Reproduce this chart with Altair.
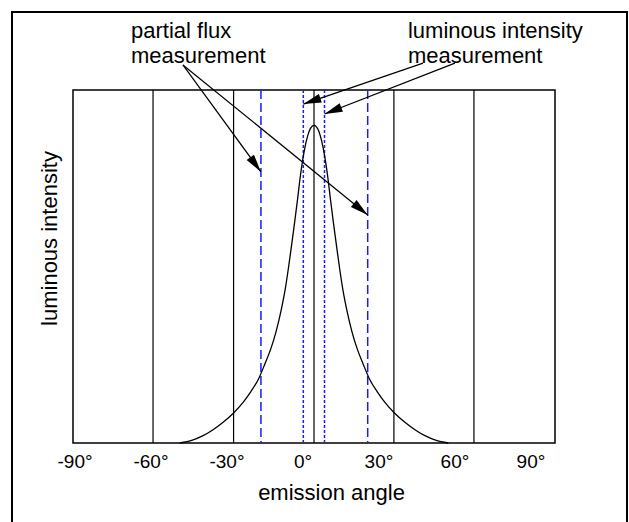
import math
import altair as alt
import pandas as pd

# ---------------- data ----------------
X_DOMAIN = [-90.6, 99.7]
Y_DOMAIN = [0.0, 1.0]
TICK_VALUES = [-90, -60, -30, 0, 30, 60, 90]

curve_angle = [-48.45, -43.45, -39.45, -35.45, -31.45, -27.2, -23.45, -20.45, -17.45,
               -14.95, -12.45, -10.45, -8.45, -6.95, -5.65, -4.45, -3.15, -1.95,
               -0.95, 0.05, 1.05, 2.05, 3.05, 4.55,
               6.05, 7.05, 8.05, 9.05, 10.05, 11.05, 12.25, 13.55, 14.75, 16.05,
               17.55, 19.55, 21.55, 24.05, 26.55, 29.55, 32.55, 36.3, 40.55, 44.55,
               48.55, 52.55, 57.55]
curve_value = [0.0, 0.008, 0.020, 0.037, 0.058, 0.085, 0.115, 0.145, 0.180,
               0.222, 0.268, 0.315, 0.375, 0.43, 0.49, 0.553, 0.622, 0.69,
               0.75, 0.80, 0.84, 0.87, 0.89, 0.90,
               0.89, 0.87, 0.84, 0.80, 0.75, 0.69, 0.622, 0.553, 0.49, 0.43,
               0.375, 0.315, 0.268, 0.222, 0.180, 0.145, 0.115, 0.085, 0.058, 0.037,
               0.020, 0.008, 0.0]

solid_lines = [-59.0, -27.2, 4.55, 36.1, 67.7]
dashed_lines = [-16.4, 25.75]
dotted_lines = [0.33, 8.7]

arrow_x0 = [-47.2, -47.2, 47.6, 60.2]
arrow_y0 = [1.071, 1.071, 1.076, 1.076]
arrow_x1 = [-16.4, 25.75, 0.33, 8.7]
arrow_y1 = [0.768, 0.646, 0.960, 0.932]

label_text = ["partial flux", "measurement", "luminous intensity", "measurement"]
label_x = [-67.7, -67.7, 41.65, 41.65]
label_y = [1.167, 1.096, 1.167, 1.096]

# ---------------- layout ----------------
W, H = 482, 353
FONT = "Liberation Sans"

sx = W / (X_DOMAIN[1] - X_DOMAIN[0])
sy = H / (Y_DOMAIN[1] - Y_DOMAIN[0])
head_angle = []
for a, b, c, d in zip(arrow_x0, arrow_y0, arrow_x1, arrow_y1):
    dx = (c - a) * sx
    dy = -(d - b) * sy
    head_angle.append(math.degrees(math.atan2(dx, -dy)) % 360)

curve_df = pd.DataFrame({"angle": curve_angle, "value": curve_value})
solid_df = pd.DataFrame({"angle": solid_lines})
dashed_df = pd.DataFrame({"angle": dashed_lines})
dotted_df = pd.DataFrame({"angle": dotted_lines})
arrow_df = pd.DataFrame({"angle": arrow_x0, "value": arrow_y0,
                         "angle2": arrow_x1, "value2": arrow_y1, "rot": head_angle})
label_df = pd.DataFrame({"angle": label_x, "value": label_y, "text": label_text})

xscale = alt.Scale(domain=X_DOMAIN, nice=False, zero=False)
yscale = alt.Scale(domain=Y_DOMAIN, nice=False, zero=False)

xaxis = alt.Axis(values=TICK_VALUES, labelExpr="datum.value + '°'", ticks=False,
                 domain=False, grid=False, labelFontSize=19, labelFont=FONT,
                 labelColor="black", labelPadding=9, labelFlush=False, labelOverlap=False,
                 title="emission angle", titleFont=FONT, titleFontSize=22,
                 titleFontWeight="normal", titleColor="black", titleX=258, titleY=56,
                 titleAlign="center", titleBaseline="alphabetic")
yaxis = alt.Axis(labels=False, ticks=False, domain=False, grid=False,
                 title="luminous intensity", titleFont=FONT, titleFontSize=22,
                 titleFontWeight="normal", titleColor="black", titleAngle=270,
                 titleX=-17, titleY=148, titleAlign="center", titleBaseline="alphabetic")

X = lambda f="angle": alt.X(f, type="quantitative", scale=xscale, axis=xaxis)
Y = lambda f="value": alt.Y(f, type="quantitative", scale=yscale, axis=yaxis)

curve = alt.Chart(curve_df).mark_line(color="black", strokeWidth=1.3,
                                      interpolate="monotone").encode(x=X(), y=Y())
solid = alt.Chart(solid_df).mark_rule(color="black", strokeWidth=1.2).encode(x=X())
dashed = alt.Chart(dashed_df).mark_rule(color="#1a1aff", strokeWidth=1.5,
                                        strokeDash=[9, 4]).encode(x=X())
dotted = alt.Chart(dotted_df).mark_rule(color="#1a1aff", strokeWidth=1.5,
                                        strokeDash=[3, 2]).encode(x=X())
arrows = alt.Chart(arrow_df).mark_rule(color="black", strokeWidth=1.2).encode(
    x=X(), y=Y(), x2="angle2:Q", y2="value2:Q")
heads = alt.Chart(arrow_df).mark_point(
    shape="M0,0L-0.5,2L0.5,2Z", filled=True, color="black", opacity=1, size=324
).encode(x=alt.X("angle2", type="quantitative", scale=xscale, axis=xaxis),
         y=alt.Y("value2", type="quantitative", scale=yscale, axis=yaxis),
         angle=alt.Angle("rot:Q", scale=None))
labels = alt.Chart(label_df).mark_text(align="left", baseline="middle", fontSize=22,
                                       font=FONT, color="black").encode(
    x=X(), y=Y(), text="text:N")
frame = alt.Chart(pd.DataFrame({"k": [0]})).mark_rect(
    fill=None, stroke="black", strokeWidth=2).encode(
    x=alt.value(-61), x2=alt.value(554), y=alt.value(-78), y2=alt.value(470))

chart = alt.layer(frame, solid, dashed, dotted, curve, arrows, heads, labels).properties(
    width=W, height=H,
    padding={"left": 73, "top": 90, "right": 74, "bottom": 79},
    autosize=alt.AutoSizeParams(type="none"),
    background="white",
).configure_view(stroke="black", strokeWidth=1.5)

chart.save("out.html", embed_options={"renderer": "svg", "actions": False})
